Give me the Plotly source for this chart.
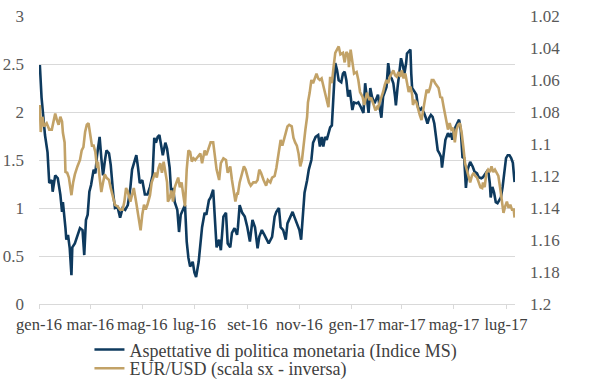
import pandas as pd
import plotly.graph_objects as go

# Days elapsed since 1 Jan 2016 and values
ms_day = [1, 3, 7, 10, 12, 15, 16, 19, 22, 25, 27, 28, 31, 32, 34, 36, 38, 39, 42, 45,
          48, 51, 53, 55, 57, 59, 61, 64, 66, 68, 70, 71, 73, 75, 77, 79, 82, 84, 87, 89,
          92, 95, 98, 101, 104, 107, 109, 112, 114, 116, 118, 121, 124, 127, 130, 133, 135, 137, 139, 141,
          143, 145, 148, 150, 153, 155, 157, 159, 162, 164, 166, 169, 171, 173, 175, 177, 180, 182, 184, 187,
          189, 191, 194, 196, 199, 201, 204, 206, 208, 211, 213, 216, 219, 221, 224, 226, 229, 232, 233, 235,
          238, 241, 244, 247, 250, 253, 256, 258, 261, 264, 267, 269, 273, 276, 278, 281, 283, 286, 289, 291,
          294, 297, 299, 302, 305, 307, 309, 311, 314, 316, 319, 321, 324, 327, 329, 331, 333, 335, 337, 339,
          341, 343, 345, 347, 349, 351, 354, 356, 358, 360, 362, 364, 367, 369, 372, 374, 377, 380, 382, 384,
          386, 388, 390, 393, 396, 397, 399, 401, 403, 405, 407, 409, 411, 413, 415, 417, 418, 420, 422, 424,
          426, 428, 430, 431, 433, 435, 436, 437, 440, 442, 444, 446, 448, 451, 453, 455, 457, 459, 461, 463,
          465, 467, 469, 471, 472, 474, 476, 479, 481, 483, 484, 486, 489, 492, 494, 496, 498, 500, 502, 505,
          508, 510, 513, 515, 518, 520, 523, 526, 528, 529, 531, 533, 535, 537, 539, 541, 543, 545, 547, 549,
          551, 553, 555, 557]
ms_val = [2.49, 2.15, 1.76, 1.58, 1.26, 1.29, 1.17, 1.34, 1.31, 1.14, 0.96, 1.06, 0.79, 0.67, 0.72, 0.58, 0.30, 0.59, 0.63, 0.70,
          0.79, 0.77, 0.51, 0.875, 0.93, 1.17, 1.24, 1.40, 1.36, 1.55, 1.66, 1.74, 1.52, 1.34, 1.48, 1.60, 1.57, 1.45, 1.14, 1.00,
          1.01, 0.90, 1.00, 0.98, 1.03, 1.21, 1.40, 1.48, 1.55, 1.42, 1.26, 1.29, 1.14, 1.14, 1.22, 1.34, 1.73, 1.68, 1.74, 1.76,
          1.66, 1.55, 1.68, 1.62, 1.42, 1.14, 1.21, 1.06, 0.98, 0.75, 0.93, 1.00, 1.03, 0.65, 0.48, 0.39, 0.44, 0.33, 0.28, 0.44,
          0.60, 0.80, 0.95, 0.93, 1.08, 1.11, 1.19, 0.91, 0.59, 0.67, 0.56, 0.91, 0.95, 0.63, 0.59, 0.74, 0.79, 0.72, 0.80, 1.03,
          0.95, 0.91, 0.80, 0.65, 0.875, 0.80, 0.58, 0.70, 0.77, 0.72, 0.67, 0.63, 0.70, 0.91, 0.96, 1.00, 0.80, 0.77, 0.67, 0.84,
          0.90, 0.96, 0.91, 0.84, 0.77, 0.67, 0.91, 1.16, 1.29, 1.40, 1.50, 1.68, 1.74, 1.76, 1.64, 1.74, 1.64, 1.74, 1.71, 1.78,
          1.84, 1.86, 2.16, 2.51, 2.44, 2.33, 2.31, 2.40, 2.42, 2.33, 2.16, 2.23, 2.02, 2.10, 2.09, 2.10, 2.05, 1.99, 2.30, 2.16,
          1.99, 2.25, 2.16, 2.09, 2.16, 2.18, 2.05, 1.94, 2.16, 2.21, 2.26, 2.51, 2.37, 2.35, 2.30, 2.16, 2.07, 2.26, 2.40, 2.56,
          2.49, 2.40, 2.51, 2.61, 2.63, 2.65, 2.40, 2.25, 2.21, 2.18, 2.05, 2.02, 2.04, 1.99, 1.94, 1.88, 1.94, 1.97, 1.95, 1.88,
          1.74, 1.60, 1.57, 1.53, 1.42, 1.60, 1.71, 1.78, 1.74, 1.78, 1.71, 1.81, 1.86, 1.92, 1.81, 1.53, 1.52, 1.21, 1.40, 1.48,
          1.43, 1.38, 1.36, 1.32, 1.31, 1.32, 1.36, 1.40, 1.26, 1.11, 1.22, 1.16, 1.06, 1.05, 1.08, 1.11, 1.22, 1.40, 1.52, 1.55,
          1.55, 1.52, 1.47, 1.27]

fx_day = [1, 2, 4, 6, 9, 12, 15, 17, 19, 21, 23, 25, 27, 28, 30, 31, 33, 35, 37, 38,
          40, 42, 45, 48, 50, 52, 54, 56, 58, 60, 62, 64, 66, 68, 69, 71, 73, 75, 77, 79,
          82, 84, 87, 89, 92, 95, 98, 100, 102, 104, 107, 109, 111, 114, 116, 117, 119, 121, 123, 125,
          127, 130, 132, 134, 136, 138, 140, 142, 144, 146, 148, 150, 151, 153, 155, 157, 159, 161, 163, 165,
          167, 169, 171, 173, 175, 177, 179, 181, 183, 186, 189, 191, 194, 196, 199, 201, 204, 206, 208, 211,
          213, 216, 219, 221, 224, 226, 228, 230, 232, 233, 235, 237, 240, 242, 244, 246, 248, 251, 254, 256,
          258, 260, 263, 266, 268, 271, 273, 276, 278, 280, 281, 283, 285, 287, 289, 291, 293, 296, 298, 300,
          302, 304, 306, 308, 310, 312, 314, 315, 317, 319, 321, 323, 325, 327, 329, 331, 333, 335, 337, 339,
          341, 343, 345, 347, 349, 351, 353, 356, 358, 360, 362, 363, 365, 367, 369, 372, 374, 376, 379, 381,
          384, 387, 389, 392, 394, 396, 397, 399, 401, 403, 405, 407, 409, 411, 413, 415, 417, 419, 421, 423,
          425, 427, 429, 431, 433, 435, 437, 438, 440, 442, 444, 446, 448, 450, 452, 454, 456, 458, 460, 462,
          464, 466, 468, 470, 472, 474, 476, 478, 479, 481, 483, 485, 487, 489, 491, 493, 495, 497, 499, 501,
          503, 505, 507, 509, 511, 513, 515, 517, 519, 520, 522, 524, 526, 528, 530, 532, 534, 536, 538, 540,
          542, 544, 546, 548, 550, 552, 554, 556, 557]
fx_val = [1.0756, 1.0925, 1.083, 1.089, 1.087, 1.091, 1.091, 1.086, 1.081, 1.085, 1.088, 1.083, 1.086, 1.093, 1.099, 1.1175, 1.118, 1.121, 1.1275, 1.132,
          1.124, 1.119, 1.114, 1.110, 1.104, 1.102, 1.0925, 1.088, 1.087, 1.094, 1.101, 1.101, 1.105, 1.115, 1.111, 1.121, 1.130, 1.124, 1.119, 1.121,
          1.1225, 1.1275, 1.134, 1.138, 1.139, 1.141, 1.141, 1.136, 1.1275, 1.130, 1.136, 1.132, 1.1275, 1.137, 1.144, 1.149, 1.154, 1.144, 1.138, 1.141,
          1.138, 1.132, 1.124, 1.121, 1.118, 1.121, 1.115, 1.112, 1.118, 1.111, 1.119, 1.124, 1.136, 1.134, 1.129, 1.136, 1.127, 1.124, 1.121, 1.127,
          1.124, 1.132, 1.139, 1.116, 1.104, 1.105, 1.111, 1.109, 1.110, 1.108, 1.106, 1.112, 1.104, 1.107, 1.102, 1.099, 1.099, 1.106, 1.116, 1.1225,
          1.112, 1.109, 1.110, 1.118, 1.114, 1.1225, 1.131, 1.136, 1.131, 1.131, 1.124, 1.120, 1.114, 1.116, 1.120, 1.124, 1.126, 1.124, 1.124, 1.1225,
          1.116, 1.118, 1.1225, 1.126, 1.1225, 1.124, 1.121, 1.120, 1.115, 1.108, 1.102, 1.0975, 1.101, 1.096, 1.093, 1.089, 1.088, 1.089, 1.096, 1.099,
          1.101, 1.106, 1.114, 1.110, 1.099, 1.091, 1.083, 1.074, 1.068, 1.060, 1.062, 1.059, 1.056, 1.059, 1.060, 1.059, 1.064, 1.068, 1.0725, 1.077,
          1.058, 1.062, 1.052, 1.043, 1.041, 1.039, 1.044, 1.043, 1.049, 1.0425, 1.044, 1.052, 1.041, 1.0475, 1.056, 1.055, 1.060, 1.0675, 1.0706, 1.0756,
          1.068, 1.0725, 1.071, 1.0756, 1.079, 1.077, 1.0775, 1.074, 1.071, 1.0675, 1.063, 1.060, 1.062, 1.058, 1.056, 1.054, 1.057, 1.058, 1.055, 1.058,
          1.054, 1.059, 1.056, 1.062, 1.0675, 1.064, 1.069, 1.0756, 1.0725, 1.074, 1.079, 1.082, 1.085, 1.079, 1.0706, 1.066, 1.068, 1.065, 1.060, 1.060,
          1.062, 1.064, 1.065, 1.0706, 1.071, 1.077, 1.083, 1.089, 1.091, 1.087, 1.091, 1.090, 1.099, 1.091, 1.088, 1.087, 1.093, 1.102, 1.112, 1.116,
          1.120, 1.124, 1.120, 1.118, 1.120, 1.121, 1.124, 1.127, 1.1275, 1.124, 1.127, 1.118, 1.116, 1.1175, 1.114, 1.1175, 1.116, 1.118, 1.120, 1.127,
          1.137, 1.143, 1.139, 1.136, 1.140, 1.138, 1.141, 1.141, 1.146]

tick_dates = ["2016-01-01", "2016-03-01", "2016-05-01", "2016-07-01", "2016-09-01",
              "2016-11-01", "2017-01-01", "2017-03-01", "2017-05-01", "2017-07-01"]
tick_text = ["gen-16", "mar-16", "mag-16", "lug-16", "set-16",
             "nov-16", "gen-17", "mar-17", "mag-17", "lug-17"]

name_ms = "Aspettative di politica monetaria (Indice MS)"
name_fx = "EUR/USD (scala sx - inversa)"

start = pd.Timestamp("2016-01-01")
ms_dates = start + pd.to_timedelta(ms_day, unit="D")
fx_dates = start + pd.to_timedelta(fx_day, unit="D")

FONT = "Liberation Serif, DejaVu Serif, serif"
BLUE = "#0e3a5e"
GOLD = "#c2a267"

fig = go.Figure()
fig.add_trace(go.Scatter(x=ms_dates, y=ms_val, name=name_ms, mode="lines",
                         line=dict(color=BLUE, width=2.6), legend="legend"))
fig.add_trace(go.Scatter(x=fx_dates, y=fx_val, name=name_fx, mode="lines", yaxis="y2",
                         line=dict(color=GOLD, width=2.6), legend="legend2"))

legend_style = dict(
    xanchor="left", yanchor="top", orientation="v", bgcolor="rgba(0,0,0,0)",
    font=dict(family=FONT, size=18, color="#404040"), itemwidth=30,
)

fig.update_layout(
    width=589, height=387,
    margin=dict(l=39, r=74, t=16, b=83, autoexpand=False),
    paper_bgcolor="white", plot_bgcolor="white",
    font=dict(family=FONT, size=17, color="#404040"),
    xaxis=dict(
        range=["2016-01-01", "2017-07-11 12:00"],
        tickvals=tick_dates, ticktext=tick_text, tickangle=0,
        showgrid=False, showline=True, linecolor="#d9d9d9", linewidth=1,
        ticks="outside", ticklen=4, tickcolor="#d9d9d9",
        tickfont=dict(family=FONT, size=16.5, color="#404040"),
        zeroline=False, automargin=False, ticklabelstandoff=1,
        ticklabeloverflow="allow",
    ),
    yaxis=dict(
        range=[0, 3], dtick=0.5, showgrid=True, gridcolor="#d9d9d9", gridwidth=1,
        zeroline=False, showline=False, ticks="", automargin=False,
        ticklabelstandoff=14, ticklabeloverflow="allow",
        tickfont=dict(family=FONT, size=17, color="#595959"),
    ),
    yaxis2=dict(
        range=[1.2, 1.02], dtick=0.02, overlaying="y", side="right",
        showgrid=False, zeroline=False, showline=False, ticks="", automargin=False,
        ticklabelstandoff=14, ticklabeloverflow="allow",
        tickfont=dict(family=FONT, size=17, color="#595959"),
    ),
    showlegend=True,
    legend=dict(x=0.106, y=-0.095, **legend_style),
    legend2=dict(x=0.106, y=-0.160, **legend_style),
)

fig.write_html("out.html", config={"displayModeBar": False},
               post_script="document.body.style.margin='0';document.body.style.overflow='hidden';")
